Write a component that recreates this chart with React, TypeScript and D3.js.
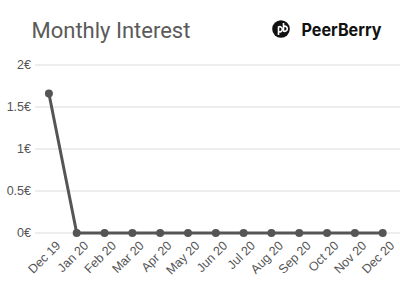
import React from "react";
import * as d3 from "d3";

const months = ["Dec 19","Jan 20","Feb 20","Mar 20","Apr 20","May 20","Jun 20","Jul 20","Aug 20","Sep 20","Oct 20","Nov 20","Dec 20"];
const interest = [1.66,0,0,0,0,0,0,0,0,0,0,0,0];
const yTicks = [0,0.5,1,1.5,2];

export default function App() {
  const W = 400, H = 300;
  const x = d3.scalePoint<string>().domain(months).range([48.9, 382.7]);
  const y = d3.scaleLinear().domain([0, 2]).range([233, 65]);
  const line = d3.line<number>().x((_, i) => x(months[i])!).y(d => y(d));
  const fmt = (v: number) => `${v}€`;
  return (
    <svg width={W} height={H} style={{ position: "absolute", left: 0, top: 0, background: "#fff" }}>
      <text x={31.5} y={38} fontFamily="Roboto" fontSize={22} fill="#5a5a5a">Monthly Interest</text>
      <g transform="translate(281,29)">
        <circle r={8.8} fill="#111" />
        <path d="M -2.5 6 L -2.5 -2 A 2.6 2.6 0 1 1 -2.5 2.6" fill="none" stroke="#fff" strokeWidth={1.6} />
        <path d="M 2.5 -6 L 2.5 2 A 2.6 2.6 0 1 0 2.5 -2.6" fill="none" stroke="#fff" strokeWidth={1.6} />
      </g>
      <text x={301.5} y={36} fontFamily="Inter" fontWeight={700} fontSize={17} textLength={80} lengthAdjust="spacingAndGlyphs" fill="#111">PeerBerry</text>
      {yTicks.map(t => (
        <g key={t}>
          <line x1={35} x2={400} y1={y(t)} y2={y(t)} stroke="#dcdcdc" strokeWidth={1} />
          <text x={31} y={y(t)} dy="0.35em" textAnchor="end" fontFamily="Liberation Sans" fontSize={12.5} fill="#555">{fmt(t)}</text>
        </g>
      ))}
      {months.map(m => (
        <text key={m} transform={`translate(${x(m)! + 6},${240}) rotate(-45)`} dy="0.72em" textAnchor="end" fontFamily="Liberation Sans" fontSize={12.5} fill="#555">{m}</text>
      ))}
      <path d={line(interest)!} fill="none" stroke="#555" strokeWidth={3} strokeLinejoin="round" />
      {interest.map((v, i) => (
        <circle key={i} cx={x(months[i])!} cy={y(v)} r={4} fill="#555" />
      ))}
    </svg>
  );
}
